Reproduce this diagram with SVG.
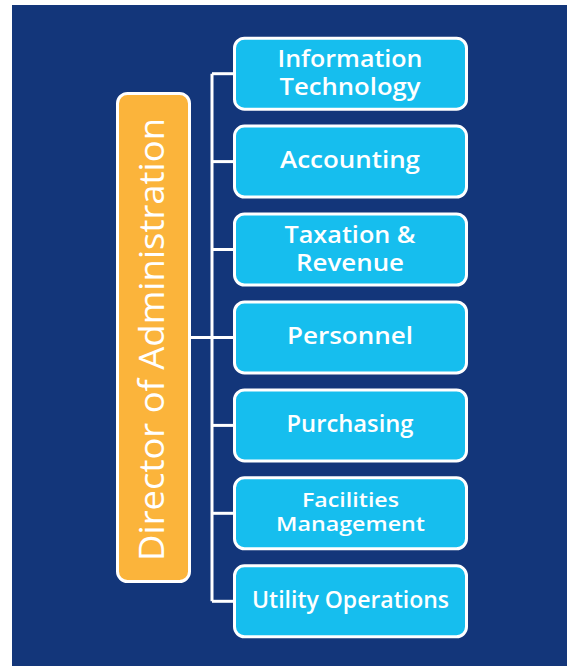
<svg xmlns="http://www.w3.org/2000/svg" width="567" height="666" viewBox="0 0 567 666">
  <style>
    .unit rect { fill: #16BEEE; stroke: #FFFFFF; stroke-width: 3; }
    .unit text { fill: #FFFFFF; font-family: "Open Sans", "Noto Sans", "Liberation Sans", sans-serif; font-weight: 600; font-size: 23px; text-anchor: middle; }
    .unit text.small { font-size: 20px; }
    .head rect { fill: #FBB43B; stroke: #FFFFFF; stroke-width: 3; }
    .head text { fill: #FFFFFF; font-family: "Open Sans", "Noto Sans", "Liberation Sans", sans-serif; font-weight: 500; font-size: 35px; text-anchor: middle; }
    .links path { fill: none; stroke: #FFFFFF; stroke-width: 3; }
  </style>

  <!-- page and panel -->
  <rect x="0" y="0" width="567" height="666" fill="#FFFFFF"/>
  <rect x="12" y="5" width="555" height="661" fill="#13367A"/>

  <!-- connectors -->
  <g id="connectors" class="links">
    <path d="M191 337.5 H234"/>
    <path d="M212 73.7 V601.3"/>
    <path d="M212 73.7 H234"/>
    <path d="M212 161.6 H234"/>
    <path d="M212 249.5 H234"/>
    <path d="M212 425.4 H234"/>
    <path d="M212 513.3 H234"/>
    <path d="M212 601.3 H234"/>
  </g>

  <!-- head of the branch -->
  <g id="director" class="head">
    <rect x="117.5" y="93.5" width="72" height="488" rx="10" ry="10"/>
    <text transform="translate(163.5,339.5) rotate(-90)" x="0" y="0" textLength="443" lengthAdjust="spacingAndGlyphs">Director of Administration</text>
  </g>

  <!-- departments -->
  <g id="information-technology" class="unit">
    <rect x="234.5" y="38.2" width="232" height="71" rx="10" ry="10"/>
    <text x="350" y="66.5" textLength="145" lengthAdjust="spacingAndGlyphs">Information</text>
    <text x="350" y="95" textLength="141" lengthAdjust="spacingAndGlyphs">Technology</text>
  </g>

  <g id="accounting" class="unit">
    <rect x="234.5" y="126.1" width="232" height="71" rx="10" ry="10"/>
    <text x="350" y="168" textLength="140" lengthAdjust="spacingAndGlyphs">Accounting</text>
  </g>

  <g id="taxation-revenue" class="unit">
    <rect x="234.5" y="214" width="232" height="71" rx="10" ry="10"/>
    <text x="350" y="242.7" textLength="131" lengthAdjust="spacingAndGlyphs">Taxation &amp;</text>
    <text x="350" y="271" textLength="108" lengthAdjust="spacingAndGlyphs">Revenue</text>
  </g>

  <g id="personnel" class="unit">
    <rect x="234.5" y="301.9" width="232" height="71" rx="10" ry="10"/>
    <text x="350" y="344" textLength="126" lengthAdjust="spacingAndGlyphs">Personnel</text>
  </g>

  <g id="purchasing" class="unit">
    <rect x="234.5" y="389.9" width="232" height="71" rx="10" ry="10"/>
    <text x="350" y="431.7" textLength="127" lengthAdjust="spacingAndGlyphs">Purchasing</text>
  </g>

  <g id="facilities-management" class="unit">
    <rect x="234.5" y="477.8" width="232" height="71" rx="10" ry="10"/>
    <text class="small" x="350.5" y="506.5" textLength="97" lengthAdjust="spacingAndGlyphs">Facilities</text>
    <text class="small" x="350.5" y="531" textLength="149" lengthAdjust="spacingAndGlyphs">Management</text>
  </g>

  <g id="utility-operations" class="unit">
    <rect x="234.5" y="565.8" width="232" height="71" rx="10" ry="10"/>
    <text x="350.5" y="607.5" textLength="197" lengthAdjust="spacingAndGlyphs">Utility Operations</text>
  </g>
</svg>
